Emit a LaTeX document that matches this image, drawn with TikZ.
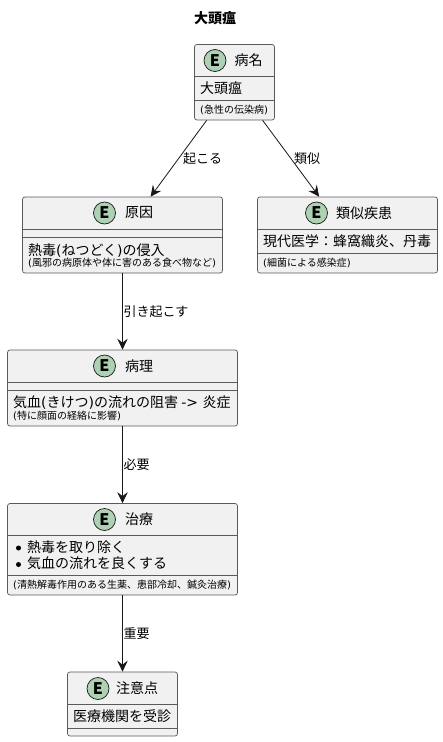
\documentclass[tikz,border=0pt]{standalone}
\usepackage{fontspec}
\setmainfont{Noto Sans CJK JP}
\newfontfamily\latinf{DejaVu Sans}
\newcommand{\lp}{{\latinf(}}
\newcommand{\rp}{{\latinf)}}
\usetikzlibrary{arrows.meta}
\definecolor{boxfill}{HTML}{F1F1F1}
\definecolor{boxline}{HTML}{181818}
\definecolor{frame}{HTML}{5A5A5A}
\definecolor{spot}{HTML}{ADD1B2}
\tikzset{
  x=1pt,y=-1pt,
  entity/.style={draw=frame,line width=.7pt,fill=boxfill,rounded corners=2.5pt,inner sep=0pt,minimum width=#1},
  sep/.style={draw=frame,line width=.6pt},
  spotc/.style={circle,draw=boxline,line width=.7pt,fill=spot,minimum size=22pt,inner sep=0pt,font=\fontsize{16}{16}\selectfont\bfseries},
  head/.style={anchor=west,inner sep=0pt,font=\fontsize{14}{14}\selectfont},
  body/.style={anchor=west,inner sep=0pt,font=\fontsize{14}{14}\selectfont},
  small/.style={anchor=west,inner sep=0pt,font=\fontsize{10}{10}\selectfont},
  elabel/.style={anchor=west,inner sep=0pt,font=\fontsize{13}{13}\selectfont},
  link/.style={draw=boxline,line width=.8pt,-{Stealth[length=11pt,width=10.5pt,inset=4pt]}},
  dot/.style={circle,fill=black,inner sep=0pt,minimum size=5pt},
}
\begin{document}
\begin{tikzpicture}
\useasboundingbox (0,0) rectangle (443,742);
\fill[white] (0,0) rectangle (443,742);
\node[anchor=center,inner sep=0pt,font=\fontsize{14}{14}\selectfont\bfseries] (title) at (215,18) {大頭瘟};
% boxes
\node[entity=80pt,minimum height=75.5pt] (dis) at (234.5,82.25) {};
\node[entity=200pt,minimum height=76pt] (cause) at (122.5,235) {};
\node[entity=180pt,minimum height=76pt] (sim) at (347.5,235) {};
\node[entity=230pt,minimum height=76pt] (path) at (122.5,388) {};
\node[entity=230pt,minimum height=91.5pt] (treat) at (122.5,549.25) {};
\node[entity=110pt,minimum height=64pt] (note) at (122.5,704) {};
% separators
\draw[sep] (194.5,76.5) -- (274.5,76.5) (194.5,100) -- (274.5,100);
\draw[sep] (22.5,229) -- (222.5,229) (22.5,237) -- (222.5,237);
\draw[sep] (257.5,229) -- (437.5,229) (257.5,253) -- (437.5,253);
\draw[sep] (7.5,382) -- (237.5,382) (7.5,390) -- (237.5,390);
\draw[sep] (7.5,535.5) -- (237.5,535.5) (7.5,575.5) -- (237.5,575.5);
\draw[sep] (67.5,704.5) -- (177.5,704.5) (67.5,728.5) -- (177.5,728.5);
% spots
\node[spotc] (s1) at (215,60.5) {E};
\node[spotc] (s2) at (104.5,213) {E};
\node[spotc] (s3) at (316.5,213) {E};
\node[spotc] (s4) at (104.5,366) {E};
\node[spotc] (s5) at (104.5,519.5) {E};
\node[spotc] (s6) at (98,688.5) {E};
% headers
\node[head] (h1) at (234.5,60) {病名};
\node[head] (h2) at (125,213) {原因};
\node[head] (h3) at (336,213) {類似疾患};
\node[head] (h4) at (125,366) {病理};
\node[head] (h5) at (125,519) {治療};
\node[head] (h6) at (116,688) {注意点};
% bodies
\node[body] (b1) at (200,88.5) {大頭瘟};
\node[small] (m1) at (200,110) {\lp 急性の伝染病\rp};
\node[body] (b2) at (28,250.5) {熱毒\lp ねつどく\rp の侵入};
\node[small] (m2) at (28,263) {\lp 風邪の病原体や体に害のある食べ物など\rp};
\node[body] (b3) at (263,241) {現代医学：蜂窩織炎、丹毒};
\node[small] (m3) at (263,263) {\lp 細菌による感染症\rp};
\node[body] (b4) at (13,402.5) {気血\lp きけつ\rp の流れの阻害 {\latinf ->}\hspace{4.5pt}炎症};
\node[small] (m4) at (13,416) {\lp 特に顔面の経絡に影響\rp};
\node[dot] (d1) at (18.5,548) {};
\node[dot] (d2) at (18.5,564.5) {};
\node[body] (b5) at (27,547) {熱毒を取り除く};
\node[body] (c5) at (27,563) {気血の流れを良くする};
\node[small] (m5) at (13,585) {\lp 清熱解毒作用のある生薬、患部冷却、鍼灸治療\rp};
\node[body] (b6) at (73,716.5) {医療機関を受診};
% connectors
\draw[link] (dis) -- (cause);
\draw[link] (dis) -- (sim);
\draw[link] (cause) -- (path);
\draw[link] (path) -- (treat);
\draw[link] (treat) -- (note);
% labels
\node[elabel] (l1) at (183,158.5) {起こる};
\node[elabel] (l2) at (294,158.5) {類似};
\node[elabel] (l3) at (123.5,311.5) {引き起こす};
\node[elabel] (l4) at (123.5,464.5) {必要};
\node[elabel] (l5) at (123.5,633.5) {重要};
\end{tikzpicture}
\end{document}
